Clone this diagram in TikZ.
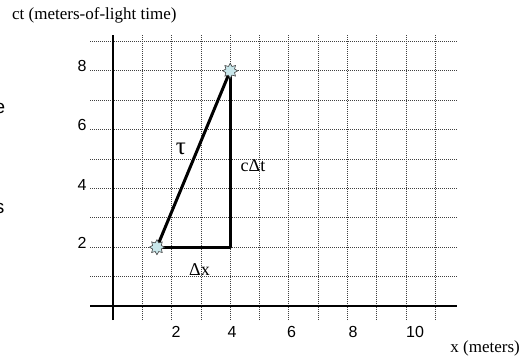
\documentclass[tikz,border=0pt]{standalone}
\usepackage{fontspec}
\setmainfont{Liberation Serif}
\newfontfamily\arialfont{Liberation Sans}
\usetikzlibrary{shapes.geometric}
\definecolor{markfill}{RGB}{200,230,234}
\begin{document}
\begin{tikzpicture}[x=1bp,y=-1bp,
  gridline/.style={black!75, line width=0.7bp, dash pattern=on 1bp off 1bp},
  axisline/.style={black, line width=1.3bp},
  triline/.style={black, line width=3bp, line join=round},
  event/.style={star, star points=8, star point ratio=1.6, minimum size=15bp, inner sep=0pt, fill=markfill, draw=black!75, line width=0.6bp},
  ticklabel/.style={font=\arialfont\fontsize{16bp}{19bp}\selectfont, inner sep=0pt},
  seriflabel/.style={font=\fontsize{17bp}{20bp}\selectfont, inner sep=0pt},
  mathlabel/.style={font=\fontsize{18bp}{21bp}\selectfont, inner sep=0pt},
  cutlabel/.style={font=\arialfont\fontsize{19bp}{22bp}\selectfont, inner sep=0pt}]
\useasboundingbox (0,0) rectangle (523,362);
\fill[white] (0,0) rectangle (523,362);

\begin{scope}[shift={(113,306)}, x=29.3bp, y=29.4bp]
  \foreach \i in {1,...,9} \draw[gridline] (-0.785,\i) -- (11.74,\i);
  \foreach \i in {1,...,11} \draw[gridline] (\i,-0.476) -- (\i,9.22);
  \draw[axisline] (-0.785,0) -- (11.74,0);
  \draw[axisline] (0,-0.476) -- (0,9.22);
  \coordinate (A) at (1.5,2);
  \coordinate (B) at (4,8);
  \coordinate (C) at (4,2);
  \draw[triline] (A) -- (B);
  \draw[triline] (B) -- (C) -- (A);
  \node[event] (evA) at (A) {};
  \node[event] (evB) at (B) {};
\end{scope}

% axis tick labels
\node[ticklabel] (y8) at (82,65.5) {8};
\node[ticklabel] (y6) at (82,125) {6};
\node[ticklabel] (y4) at (82,184.5) {4};
\node[ticklabel] (y2) at (82,242.5) {2};
\node[ticklabel] (x2) at (176,332) {2};
\node[ticklabel] (x4) at (232,332) {4};
\node[ticklabel] (x6) at (291.5,332) {6};
\node[ticklabel] (x8) at (353,332) {8};
\node[ticklabel] (x10) at (415,332) {10};

% axis titles
\node[seriflabel, anchor=base west] (ytitle) at (12,19.5) {ct (meters-of-light time)};
\node[seriflabel, anchor=base east] (xtitle) at (520,352) {x (meters)};

% triangle labels
\node[font=\fontsize{25bp}{28bp}\selectfont, inner sep=0pt, anchor=base] (tau) at (181,154) {τ};
\node[mathlabel, anchor=base west] (cdt) at (240.5,171.7) {cΔt};
\node[mathlabel, anchor=base west] (dx) at (189,275) {Δx};

% clipped fragments at the left edge (cut off in the reference too)
\node[cutlabel, anchor=base east] (frage) at (5.5,113) {e};
\node[cutlabel, anchor=base east] (frags) at (4.5,213) {s};
\end{tikzpicture}
\end{document}
